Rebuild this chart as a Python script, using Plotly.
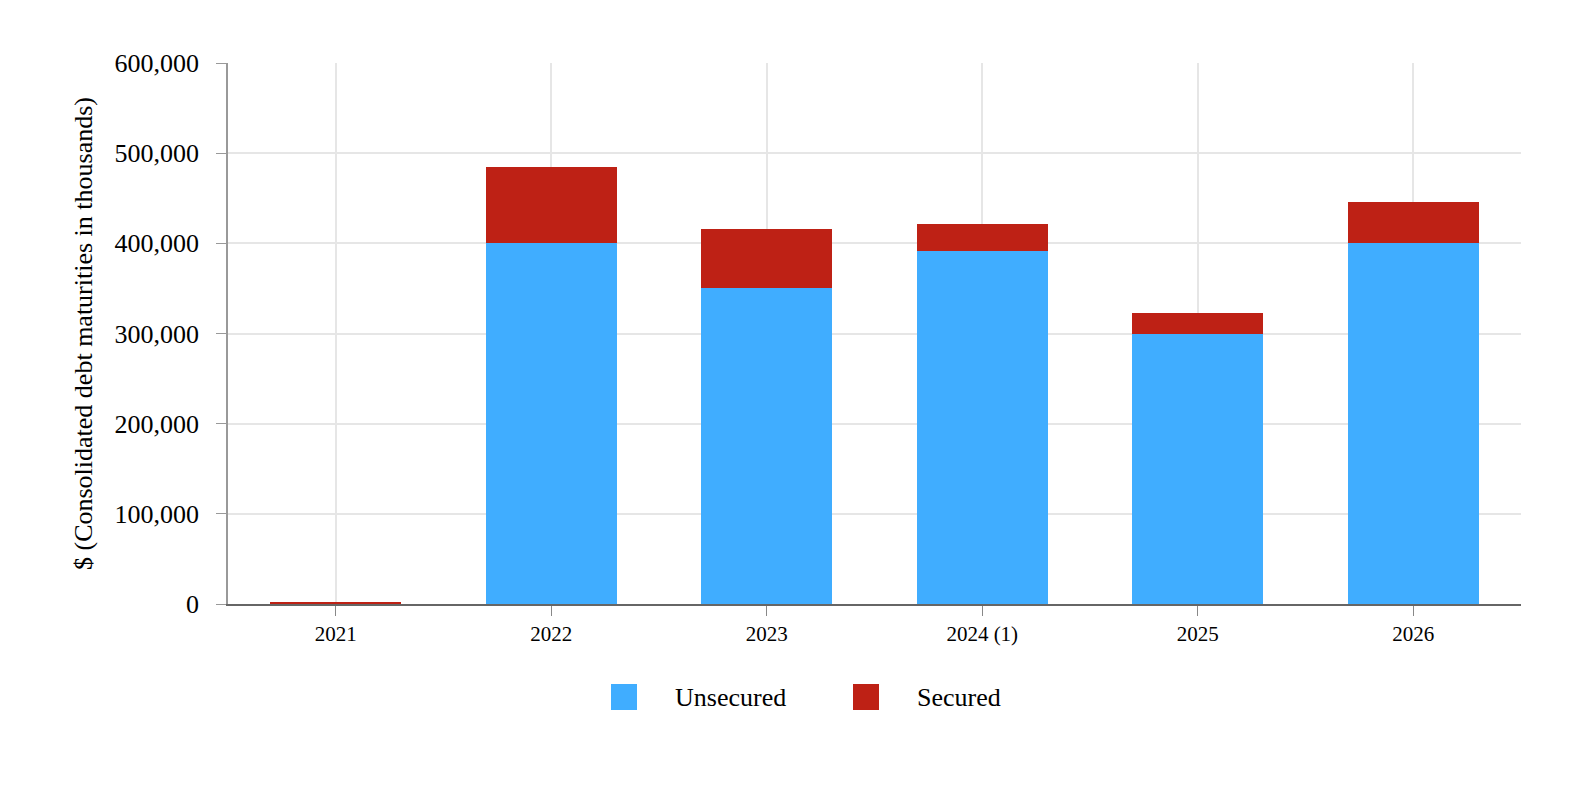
import plotly.graph_objects as go

categories = ["2021", "2022", "2023", "2024 (1)", "2025", "2026"]
unsecured = [0, 400000, 350000, 392000, 300000, 400000]
secured = [2500, 85000, 66000, 29000, 23000, 46000]
series_names = ["Unsecured", "Secured"]
series_colors = ["#40adff", "#be2115"]
y_ticks = [0, 100000, 200000, 300000, 400000, 500000, 600000]

FONT = "Liberation Serif"

ML, MR, MT, MB = 228, 65, 63, 182
PW = 1586 - ML - MR
PH = 786 - MT - MB

fig = go.Figure()
for name, vals, col in zip(series_names, [unsecured, secured], series_colors):
    fig.add_trace(go.Bar(x=categories, y=vals, name=name, marker_color=col,
                         marker_line_width=0, width=0.61, showlegend=False))

# legend drawn as shapes + text (pixel positions converted to paper coords)
legend_sq_px = [611, 853]
legend_txt_px = [675, 917]
sq_top, sq_bot = 684, 710
for i, (name, col) in enumerate(zip(series_names, series_colors)):
    x0 = (legend_sq_px[i] - ML) / PW
    fig.add_shape(type="rect", xref="paper", yref="paper",
                  x0=x0, x1=x0 + 26 / PW,
                  y0=(MT + PH - sq_top) / PH, y1=(MT + PH - sq_bot) / PH,
                  fillcolor=col, line_width=0)
    fig.add_annotation(text=name, xref="paper", yref="paper",
                       x=(legend_txt_px[i] - ML) / PW,
                       y=(MT + PH - (sq_top + sq_bot) / 2) / PH,
                       xanchor="left", yanchor="middle", showarrow=False,
                       xshift=-2,
                       font=dict(family=FONT, size=26, color="#000"))

fig.update_layout(
    width=1586, height=786,
    margin=dict(l=ML, r=MR, t=MT, b=MB),
    barmode="stack",
    plot_bgcolor="white", paper_bgcolor="white",
    font=dict(family=FONT, color="#000"),
    showlegend=False,
)
fig.update_xaxes(
    showgrid=True, gridcolor="#e6e6e6", gridwidth=1.5,
    showline=True, linecolor="#666", linewidth=1.5,
    ticks="outside", ticklen=10, tickcolor="#888",
    tickfont=dict(family=FONT, size=21, color="#000"),
)
fig.update_yaxes(
    range=[0, 600000], tickvals=y_ticks, tickformat=",",
    showgrid=True, gridcolor="#e6e6e6", gridwidth=1.5,
    zeroline=False,
    showline=True, linecolor="#999", linewidth=1.5,
    ticks="outside", ticklen=10, tickcolor="#999",
    tickfont=dict(family=FONT, size=26, color="#000"),
    ticklabelstandoff=12,
    title=dict(text="$ (Consolidated debt maturities in thousands)",
               font=dict(family=FONT, size=26, color="#000"), standoff=14),
)

fig.write_html("out.html")
